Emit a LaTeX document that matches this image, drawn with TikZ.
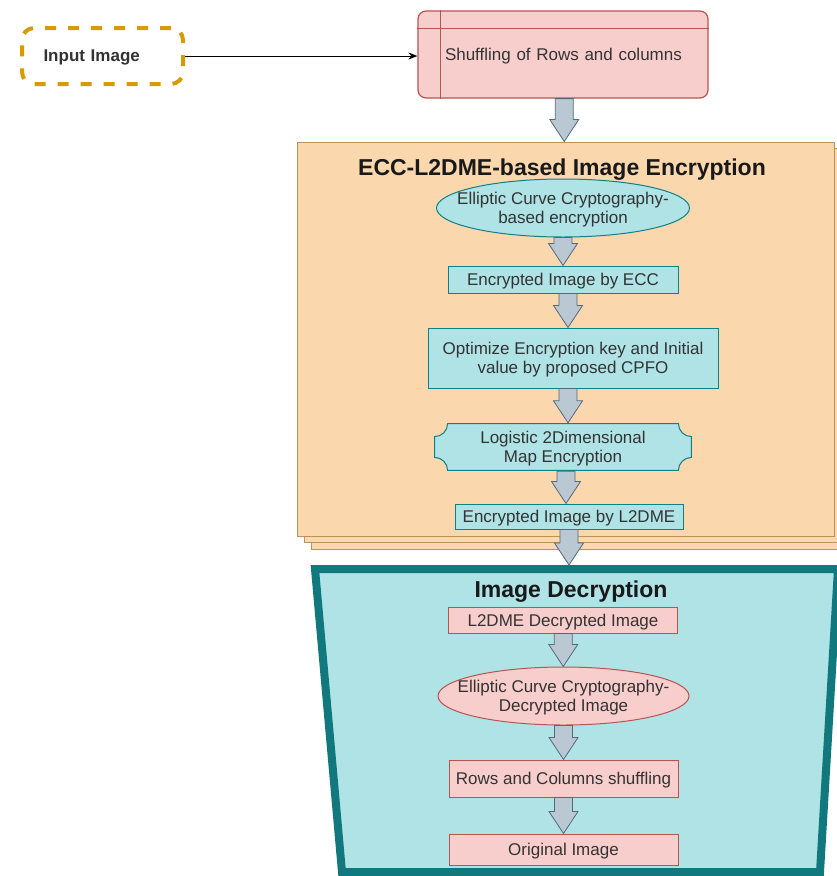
\documentclass[tikz,border=0pt]{standalone}
\usepackage{fontspec}
\setmainfont{Liberation Sans}
\usetikzlibrary{shapes.geometric,shadows,calc,arrows.meta}

\definecolor{dashgold}{HTML}{D79B00}
\definecolor{redfill}{HTML}{F8CECC}
\definecolor{redline}{HTML}{B85450}
\definecolor{tealfill}{HTML}{B0E3E6}
\definecolor{tealline}{HTML}{0E8088}
\definecolor{decline}{HTML}{11797D}
\definecolor{orangefill}{HTML}{FAD7AC}
\definecolor{orangeline}{HTML}{B9935A}
\definecolor{arrowfill}{HTML}{BAC8D3}
\definecolor{arrowline}{HTML}{55697A}
\definecolor{txt}{HTML}{333333}

\tikzset{
  every node/.append style={font=\fontsize{17}{19}\selectfont, text=txt, align=center,
    text depth=-1.5pt},
  inputbox/.style={draw=dashgold, line width=4pt, dash pattern=on 11pt off 12pt,
    rounded corners=12pt, minimum width=161pt, minimum height=56pt,
    text width=118pt, align=left, inner xsep=21pt,
    font=\fontsize{17}{19}\selectfont\bfseries},
  shufbox/.style={draw=redline, fill=redfill, line width=1.2pt, rounded corners=8pt,
    minimum height=87pt, text width=236pt, align=left, inner xsep=27pt, inner ysep=0pt},
  encbox/.style={draw=orangeline, fill=orangefill, line width=1pt,
    minimum width=537pt, minimum height=394pt,
    double copy shadow={shadow xshift=7pt, shadow yshift=-6.5pt,
      fill=orangefill, draw=orangeline, line width=1pt}},
  bigtitle/.style={font=\fontsize{23}{25}\selectfont\bfseries, text=black!90},
  tealbox/.style={draw=tealline, fill=tealfill, line width=1pt, inner sep=0pt},
  tealell/.style={ellipse, draw=tealline, fill=tealfill, line width=1pt,
    inner xsep=-30pt, inner ysep=-4pt, minimum width=253pt, minimum height=58pt},
  redbox/.style={draw=redline, fill=redfill, line width=1pt, inner sep=0pt,
    minimum width=229pt},
  redell/.style={ellipse, draw=redline, fill=redfill, line width=1pt,
    inner xsep=-30pt, inner ysep=-4pt, minimum width=251pt, minimum height=58pt},
  plaque/.style={inner sep=0pt, minimum width=258pt, minimum height=48pt,
    path picture={
      \path[fill=tealfill, draw=tealline, line width=1pt]
        let \p1=($(path picture bounding box.south west)+(0.6pt,0.6pt)$),
            \p2=($(path picture bounding box.north east)-(0.6pt,0.6pt)$) in
        (\x1,\y1+13pt) arc[start angle=90, end angle=0, radius=13pt]
        -- (\x2-13pt,\y1) arc[start angle=180, end angle=90, radius=13pt]
        -- (\x2,\y2-13pt) arc[start angle=270, end angle=180, radius=13pt]
        -- (\x1+13pt,\y2) arc[start angle=0, end angle=-90, radius=13pt]
        -- cycle;
    }},
  decbox/.style={draw=decline, fill=tealfill, line width=8pt, line join=miter},
  blockarrow/.style={fill=arrowfill, draw=arrowline, line width=0.8pt, line join=miter}
}

% thick down arrow between two named nodes
\newcommand{\flowarrow}[2]{%
  \path[blockarrow] let \p1=(#1.south), \p2=(#2.north), \p3=({(\x1+\x2)/2},\y1) in
    (\x3-9pt,\y1) -- (\x3+9pt,\y1) -- (\x3+9pt,\y2+22pt) -- (\x3+14.5pt,\y2+22pt)
    -- (\x3,\y2) -- (\x3-14.5pt,\y2+22pt) -- (\x3-9pt,\y2+22pt) -- cycle;}

\begin{document}
\begin{tikzpicture}[x=1pt,y=-1pt]
  \useasboundingbox[fill=white] (0,0) rectangle (836,876);

  % top row
  \node[inputbox] (input) at (102.5,56) {Input Image};
  \node[shufbox] (shuffle) at (563,54.5) {\mbox{Shuffling of Rows and columns}};
  \draw[redline, line width=1.2pt]
    ([xshift=23pt]shuffle.north west) -- ([xshift=23pt]shuffle.south west)
    ([yshift=-18pt]shuffle.north west) -- ([yshift=-18pt]shuffle.north east);
  \path[-{Stealth[length=9pt,width=7pt]}, line width=1pt]
    (input.east) edge (shuffle.west |- input.east);

  % encryption block
  \node[encbox] (enc) at (565.5,339) {};
  \node[bigtitle] (enctitle) at (562,167) {ECC-L2DME-based Image Encryption};
  \node[tealell] (ecc) at (563,208) {Elliptic Curve Cryptography-\\based encryption};
  \node[tealbox, minimum width=230pt, minimum height=27pt] (eccimg) at (563,279.5)
    {Encrypted Image by ECC};
  \node[tealbox, minimum width=290pt, minimum height=60pt] (cpfo) at (573,358)
    {Optimize Encryption key and Initial\\value by proposed CPFO};
  \node[plaque] (l2dm) at (563,447) {Logistic 2Dimensional\\Map Encryption};
  \node[tealbox, minimum width=228pt, minimum height=25pt] (l2dmeimg) at (569,516.5)
    {Encrypted Image by L2DME};

  % decryption block
  \draw[decbox] (315,569) -- (838,569) -- (820,872) -- (342,872) -- cycle;
  \coordinate (dectop) at (573,565);
  \node[bigtitle] (dectitle) at (571,589) {Image Decryption};
  \node[redbox, minimum height=26pt] (l2dmedec) at (563,620) {L2DME Decrypted Image};
  \node[redell] (eccdec) at (563.5,696) {Elliptic Curve Cryptography-\\Decrypted Image};
  \node[redbox, minimum height=37pt] (rows) at (563.5,778.5) {Rows and Columns shuffling};
  \node[redbox, minimum height=31pt] (orig) at (563.5,849.5) {Original Image};

  % block arrows
  \flowarrow{shuffle}{enc}
  \flowarrow{ecc}{eccimg}
  \flowarrow{eccimg}{cpfo}
  \flowarrow{cpfo}{l2dm}
  \flowarrow{l2dm}{l2dmeimg}
  \path[blockarrow] let \p1=(l2dmeimg.south), \p2=(dectop) in
    (\x1-9pt,\y1) -- (\x1+9pt,\y1) -- (\x1+9pt,\y2+22pt) -- (\x1+14.5pt,\y2+22pt)
    -- (\x1,\y2) -- (\x1-14.5pt,\y2+22pt) -- (\x1-9pt,\y2+22pt) -- cycle;
  \flowarrow{l2dmedec}{eccdec}
  \flowarrow{eccdec}{rows}
  \flowarrow{rows}{orig}
\end{tikzpicture}
\end{document}
